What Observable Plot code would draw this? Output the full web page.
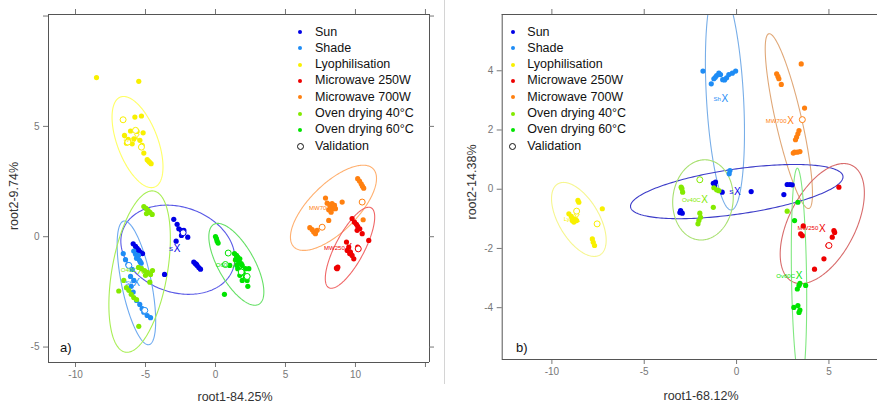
<!DOCTYPE html>
<html><head><meta charset="utf-8">
<script src="https://cdn.jsdelivr.net/npm/d3@7"></script>
<script src="https://cdn.jsdelivr.net/npm/@observablehq/plot@0.6"></script>
<style>
body{margin:0;background:#fff;width:877px;height:410px;overflow:hidden;position:relative;font-family:"Liberation Sans",Arial,sans-serif;}
.panel{position:absolute;top:0;}
.t{position:absolute;white-space:nowrap;color:#111;font-size:12.5px;line-height:1;}
.ttl{position:absolute;white-space:nowrap;color:#333;font-size:12.5px;line-height:1;transform:translate(-50%,-50%);}
.rot{transform:translate(-50%,-50%) rotate(-90deg);}
.sep{position:absolute;left:444px;top:0;width:1px;height:384px;background:#d4d4d4;}
.ld{position:absolute;border-radius:50%;}
</style></head><body>
<div id="a" class="panel" style="left:0"></div>
<div id="b" class="panel" style="left:440px"></div>
<div class="sep"></div>
<div id="overlay"></div>
<script>
// ---------- series ----------
const seriesKeys  = ["sun","shade","lyo","mw250","mw700","ov40","ov60"];
const seriesNames = ["Sun","Shade","Lyophilisation","Microwave 250W","Microwave 700W","Oven drying 40°C","Oven drying 60°C"];
const dotColors   = ["#0000e6","#1e8cf5","#f8f000","#ee0000","#ff8010","#84ea00","#00e400"];
const ellColorsA  = ["#5a5ae6","#6eaaf0","#ffff66","#f06868","#ffb070","#a8ee55","#66e066"];
const ellColorsB  = ["#3c3cc8","#78aee8","#f6f690","#d86c6c","#e0a878","#a8e070","#80e880"];
const validationName = "Validation";
const axisTitlesA = ["root1-84.25%","root2-9.74%"];
const axisTitlesB = ["root1-68.12%","root2-14.38%"];

// ---------- panel a ----------
const aSun = [[-2.98,0.79],[-2.74,0.56],[-2.62,0.36],[-2.45,0.29],[-2.26,0.29],[-1.98,-0.02],[-2.81,-0.20],[-2.43,0.06],
  [-1.55,-1.15],[-1.43,-1.22],[-1.31,-1.31],[-1.19,-1.40],[-1.07,-1.47],[-1.36,-1.25],
  [-5.88,-0.32],[-5.71,-0.44],[-5.60,-0.53],[-5.48,-0.62],[-5.36,-0.71],[-5.21,-0.77],[-5.55,-0.59],[-3.64,-1.71]];
const aShade = [[-6.59,-0.77],[-6.43,-1.04],[-6.26,-1.26],[-5.95,-1.48],[-5.84,-0.65],[-5.71,-0.80],[-5.57,-0.94],[-5.43,-1.07],
  [-5.31,-1.20],[-5.64,-0.98],[-5.50,-0.85],[-5.38,-1.13],[-6.07,-1.80],[-5.84,-1.98],[-6.02,-2.25],[-5.88,-2.51],[-5.64,-2.89],
  [-5.41,-3.07],[-5.24,-3.26],[-5.12,-3.42],[-4.88,-3.57],[-4.64,-3.67]];
const aLyo = [[-8.5,7.21],[-5.48,7.04],[-5.76,5.42],[-5.29,5.47],[-6.5,4.59],[-6.07,4.79],[-5.6,4.77],[-5.17,4.71],[-6.24,4.41],
  [-5.83,4.44],[-5.4,4.37],[-6.36,4.24],[-5.95,4.21],[-5.24,4.14],[-5.12,3.79],[-4.88,3.49],[-4.71,3.38],[-4.6,3.31],[-4.79,3.43]];
const aMW250 = [[9.76,0.82],[9.93,0.66],[10.07,0.56],[10.16,0.47],[10.31,0.36],[10.48,0.14],[10.12,0.29],[9.36,-0.24],[9.52,-0.47],
  [9.64,-0.7],[9.76,-0.85],[9.88,-1.0],[9.41,-0.62],[9.59,-0.77],[10.16,-0.47],[10.95,-0.17],[8.69,-1.45],[8.74,-1.38],[8.64,-1.42]];
const aMW700 = [[10.16,2.63],[10.29,2.52],[10.41,2.40],[10.5,2.29],[10.59,2.2],[7.86,1.75],[7.98,1.52],[8.16,1.46],[8.33,1.5],
  [8.5,1.42],[8.21,1.31],[8.41,1.27],[8.09,1.22],[8.26,1.11],[8.57,1.27],[9.05,1.57],[8.09,0.74],[6.74,0.41],[6.91,0.32],
  [7.02,0.21],[7.14,0.14],[7.26,0.29],[10.55,0.77]];
const aOv40 = [[-5.12,1.37],[-4.96,1.28],[-4.82,1.19],[-4.68,1.10],[-4.52,1.01],[-4.93,1.05],[-5.5,-1.39],[-5.29,-1.44],[-5.07,-1.53],
  [-4.86,-1.62],[-4.64,-1.71],[-4.5,-1.53],[-5.0,-1.75],[-4.69,-2.06],[-6.55,-1.98],[-6.91,-2.46],[-6.36,-2.31],[-6.19,-2.43],
  [-6.02,-2.61],[-5.84,-2.76],[-5.64,-2.85],[-5.48,-4.06]];
const aOv60 = [[0.0,0.01],[0.07,-0.09],[0.12,-0.2],[0.19,-0.29],[1.36,-0.77],[1.5,-0.85],[1.59,-0.92],[1.74,-1.0],[1.43,-1.04],
  [1.67,-1.15],[1.84,-1.22],[1.55,-1.3],[1.91,-1.3],[1.59,-1.45],[1.79,-1.53],[2.14,-1.45],[2.38,-1.45],[1.98,-1.65],[1.74,-1.75],
  [2.14,-1.83],[2.26,-1.98],[1.91,-1.98],[2.31,-2.25],[1.02,-1.3],[0.64,-2.61]];
const aValidation = [["lyo",-6.6,5.3],["lyo",-5.71,4.82],["lyo",-6.26,4.29],["lyo",-5.29,4.06],["sun",-2.31,0.18],
  ["shade",-5.05,-3.34],["shade",-6.19,-1.30],["ov60",0.91,-0.74],["ov60",0.71,-1.26],["ov60",1.84,-1.6],["ov60",2.26,-1.8],
  ["mw700",10.48,1.57],["mw700",7.62,0.43],["mw250",10.2,-0.55]];
const aCentroids = [["sun","S",-2.74,-0.57],["shade","Sh",-5.64,-2.08],["lyo","Lyo",-5.6,4.44],["ov40","O40C",-5.36,-1.53],
  ["ov60","O60C",1.43,-1.27],["mw700","MW700",8.45,1.31],["mw250","MW250",9.52,-0.5]];
// ellipse: key, centre x, centre y, major-axis tip x, tip y, minor/major ratio
const aEllipses = [["lyo",-5.57,4.29,-6.79,6.33,0.42],["sun",-2.69,-0.59,1.26,-1.45,0.73],["shade",-5.65,-2.09,-6.55,0.71,0.236],
  ["ov40",-5.42,-1.58,-4.40,2.07,0.338],["ov60",1.49,-1.25,-0.12,0.56,0.395],["mw700",8.43,1.31,11.26,3.08,0.43],
  ["mw250",9.61,-0.50,11.12,1.31,0.32]];

// ---------- panel b ----------
const bSun = [[-3.03,-0.72],[-2.94,-0.81],[-3.07,-0.79],[-1.26,0.2],[-1.14,0.24],[-1.19,0.12],[-0.78,-0.1],[0.79,-0.08],
  [2.56,-0.18],[2.74,0.16],[2.89,0.16],[3.01,0.15]];
const bShade = [[-1.82,3.99],[-1.37,3.56],[-1.23,3.73],[-1.08,3.84],[-0.96,3.92],[-0.87,3.87],[-0.65,3.69],[-0.54,3.76],
  [-0.42,3.87],[-0.23,3.92],[-0.05,3.99],[-1.15,3.78],[-0.75,3.7],[-0.36,0.63],[-0.40,0.52]];
const bLyo = [[-8.59,-0.38],[-8.54,-0.44],[-9.08,-0.83],[-8.95,-0.92],[-8.81,-1.0],[-8.66,-1.06],[-8.9,-1.06],[-8.81,-1.11],
  [-7.27,-0.66],[-7.81,-1.68],[-7.76,-1.79],[-7.69,-1.9]];
const bMW250 = [[5.54,0.07],[3.61,-1.24],[3.47,-1.51],[3.56,-1.57],[5.27,-1.4],[5.18,-1.62],[4.95,-1.9],[4.73,-2.35],[4.22,-2.7],[5.31,-1.46]];
const bMW700 = [[2.17,3.9],[2.24,3.81],[2.29,3.73],[2.42,3.54],[3.5,4.23],[3.68,2.74],[3.25,1.76],[3.32,1.87],[3.38,1.98],
  [3.19,1.67],[3.14,1.25],[3.29,1.25],[3.43,1.27],[3.07,1.22]];
const bOv40 = [[-3.0,0.07],[-2.92,-0.1],[-2.96,0.02],[-1.99,-0.81],[-1.95,-0.95],[-2.04,-1.06],[-2.09,-1.17],[-1.26,-0.61],
  [-1.23,0.05],[-1.08,-0.02],[-0.96,-0.05],[2.74,-0.74]];
const bOv60 = [[3.14,-1.06],[3.32,-0.44],[3.38,-3.25],[3.43,-3.18],[3.74,-3.25],[3.29,-3.37],[3.1,-3.99],[3.32,-3.93],[3.43,-4.08],[3.38,-4.16]];
const bValidation = [["lyo",-8.66,-0.74],["lyo",-7.55,-1.17],["ov40",-1.99,0.32],["mw700",3.56,2.35],["mw250",5.0,-1.9]];
const bCentroids = [["sun","S",0.04,-0.08],["shade","Sh",-0.63,3.05],["lyo","Lyo",-8.63,-1.0],["ov40","Ov40C",-1.73,-0.35],
  ["ov60","Ov60C",3.38,-2.92],["mw700","MW700",2.92,2.3],["mw250","MW250",4.64,-1.32]];
const bEllipses = [["shade",-0.63,3.11,-0.29,-0.70,0.164],["mw700",2.83,2.30,1.75,5.25,0.145],["sun",0.01,-0.08,5.76,0.44,0.21],
  ["ov40",-1.82,-0.36,-1.59,0.99,0.75],["mw250",4.64,-1.16,6.26,0.80,0.51],["ov60",3.38,-2.92,3.29,0.71,0.07],
  ["lyo",-8.54,-1.02,-9.68,0.18,0.49]];

// ---------- axes ----------
const aXTicks = [-10,-5,0,5,10,15], aXLabels = [-10,-5,0,5,10];
const aYTicks = [-5,0,5,10], aYLabels = [-5,0,5];
const bXTicks = [-10,-5,0,5], bYTicks = [-4,-2,0,2,4];

const colorOf = k => dotColors[seriesKeys.indexOf(k)];

function draw(el, cfg) {
  const {W,H,mL,mR,mT,mB,xd,yd,xt,xl,yt,yl,series,val,cen,ell,ellColors,frameRight} = cfg;
  const kx = (W-mL-mR)/(xd[1]-xd[0]), ky = (H-mT-mB)/(yd[1]-yd[0]);
  const pts = [];
  series.forEach((arr,i)=>arr.forEach(([x,y])=>pts.push({x,y,c:dotColors[i]})));
  const vpts = val.map(([k,x,y])=>({x,y,c:colorOf(k)}));
  const cpts = cen.map(([k,l,x,y])=>({x,y,l,c:colorOf(k)}));
  const epts = [];
  ell.forEach(([k,cx,cy,tx,ty,r],i)=>{
    const ux=tx-cx, uy=ty-cy, vx=-uy*ky*r/kx, vy=ux*kx*r/ky;
    const c = ellColors[seriesKeys.indexOf(k)];
    for(let j=0;j<=240;j++){const t=2*Math.PI*j/240;
      epts.push({id:i,c,x:cx+ux*Math.cos(t)+vx*Math.sin(t),y:cy+uy*Math.cos(t)+vy*Math.sin(t)});}
  });
  const marks = [
    Plot.line(epts,{x:"x",y:"y",z:"id",stroke:"c",strokeWidth:1.1,clip:true}),
    Plot.dot(pts,{x:"x",y:"y",fill:"c",r:2.6}),
    Plot.dot(vpts,{x:"x",y:"y",stroke:"c",fill:"white",r:3,strokeWidth:1}),
    Plot.text(cpts,{x:"x",y:"y",text:"l",fill:"c",fontSize:6,textAnchor:"end",dx:-4}),
    Plot.text(cpts,{x:"x",y:"y",text:()=>"X",fill:"c",fontSize:10}),
    Plot.ruleY([yd[0],yd[1]],{stroke:"#555"}),
    Plot.ruleX(frameRight?[xd[0],xd[1]]:[xd[0]],{stroke:"#555"}),
    Plot.ruleX(xt,{x:d=>d,y1:yd[1],y2:yd[1]+5/ky,stroke:"#777"})
  ];
  if(frameRight) marks.push(Plot.ruleY(yt,{y:d=>d,x1:xd[1],x2:xd[1]+5/kx,stroke:"#777"}));
  const svg = Plot.plot({
    width:W,height:H,marginLeft:mL,marginRight:mR,marginTop:mT,marginBottom:mB,
    x:{domain:xd,ticks:xt,tickFormat:d=>xl.includes(d)?String(d):"",tickSize:5,tickPadding:3,label:null},
    y:{domain:yd,ticks:yt,tickFormat:d=>yl.includes(d)?String(d):"",tickSize:5,tickPadding:4,label:null},
    color:{type:"identity"},
    style:{fontFamily:"'Liberation Sans',Arial,sans-serif",fontSize:"10px",color:"#777",background:"transparent",overflow:"visible"},
    marks
  });
  el.appendChild(svg);
}

draw(document.getElementById("a"),{W:440,H:410,mL:48,mR:11,mT:14,mB:48,xd:[-11.93,15.29],yd:[-5.7,10.07],
  xt:aXTicks,xl:aXLabels,yt:aYTicks,yl:aYLabels,series:[aSun,aShade,aLyo,aMW250,aMW700,aOv40,aOv60],
  val:aValidation,cen:aCentroids,ell:aEllipses,ellColors:ellColorsA,frameRight:true});
draw(document.getElementById("b"),{W:437,H:410,mL:61.7,mR:0,mT:14,mB:51,xd:[-12.69,7.63],yd:[-5.75,5.9],
  xt:bXTicks,xl:bXTicks,yt:bYTicks,yl:bYTicks,series:[bSun,bShade,bLyo,bMW250,bMW700,bOv40,bOv60],
  val:bValidation,cen:bCentroids,ell:bEllipses,ellColors:ellColorsB,frameRight:false});

// ---------- legends, titles, panel tags ----------
const ov = document.getElementById("overlay");
function add(html){ov.insertAdjacentHTML("beforeend",html);}
function legend(dotX, textX){
  const names = seriesNames.concat([validationName]);
  names.forEach((n,i)=>{
    const y = 32 + i*16.3;
    if(i<seriesNames.length) add(`<div class="ld" style="left:${dotX-2}px;top:${y-2}px;width:4px;height:4px;background:${dotColors[i]}"></div>`);
    else add(`<div class="ld" style="left:${dotX-3.5}px;top:${y-3.5}px;width:5px;height:5px;border:1px solid #111"></div>`);
    add(`<div class="t" style="left:${textX}px;top:${y-6.5}px">${n}</div>`);
  });
}
legend(300,315);
legend(512.7,527.3);
add(`<div class="t" style="left:60px;top:341px;font-size:13px">a)</div>`);
add(`<div class="t" style="left:516px;top:341px;font-size:13px">b)</div>`);
add(`<div class="ttl" style="left:235px;top:397px">${axisTitlesA[0]}</div>`);
add(`<div class="ttl rot" style="left:14px;top:196px">${axisTitlesA[1]}</div>`);
add(`<div class="ttl" style="left:701px;top:396px">${axisTitlesB[0]}</div>`);
add(`<div class="ttl rot" style="left:472px;top:182px">${axisTitlesB[1]}</div>`);
</script>
</body></html>
